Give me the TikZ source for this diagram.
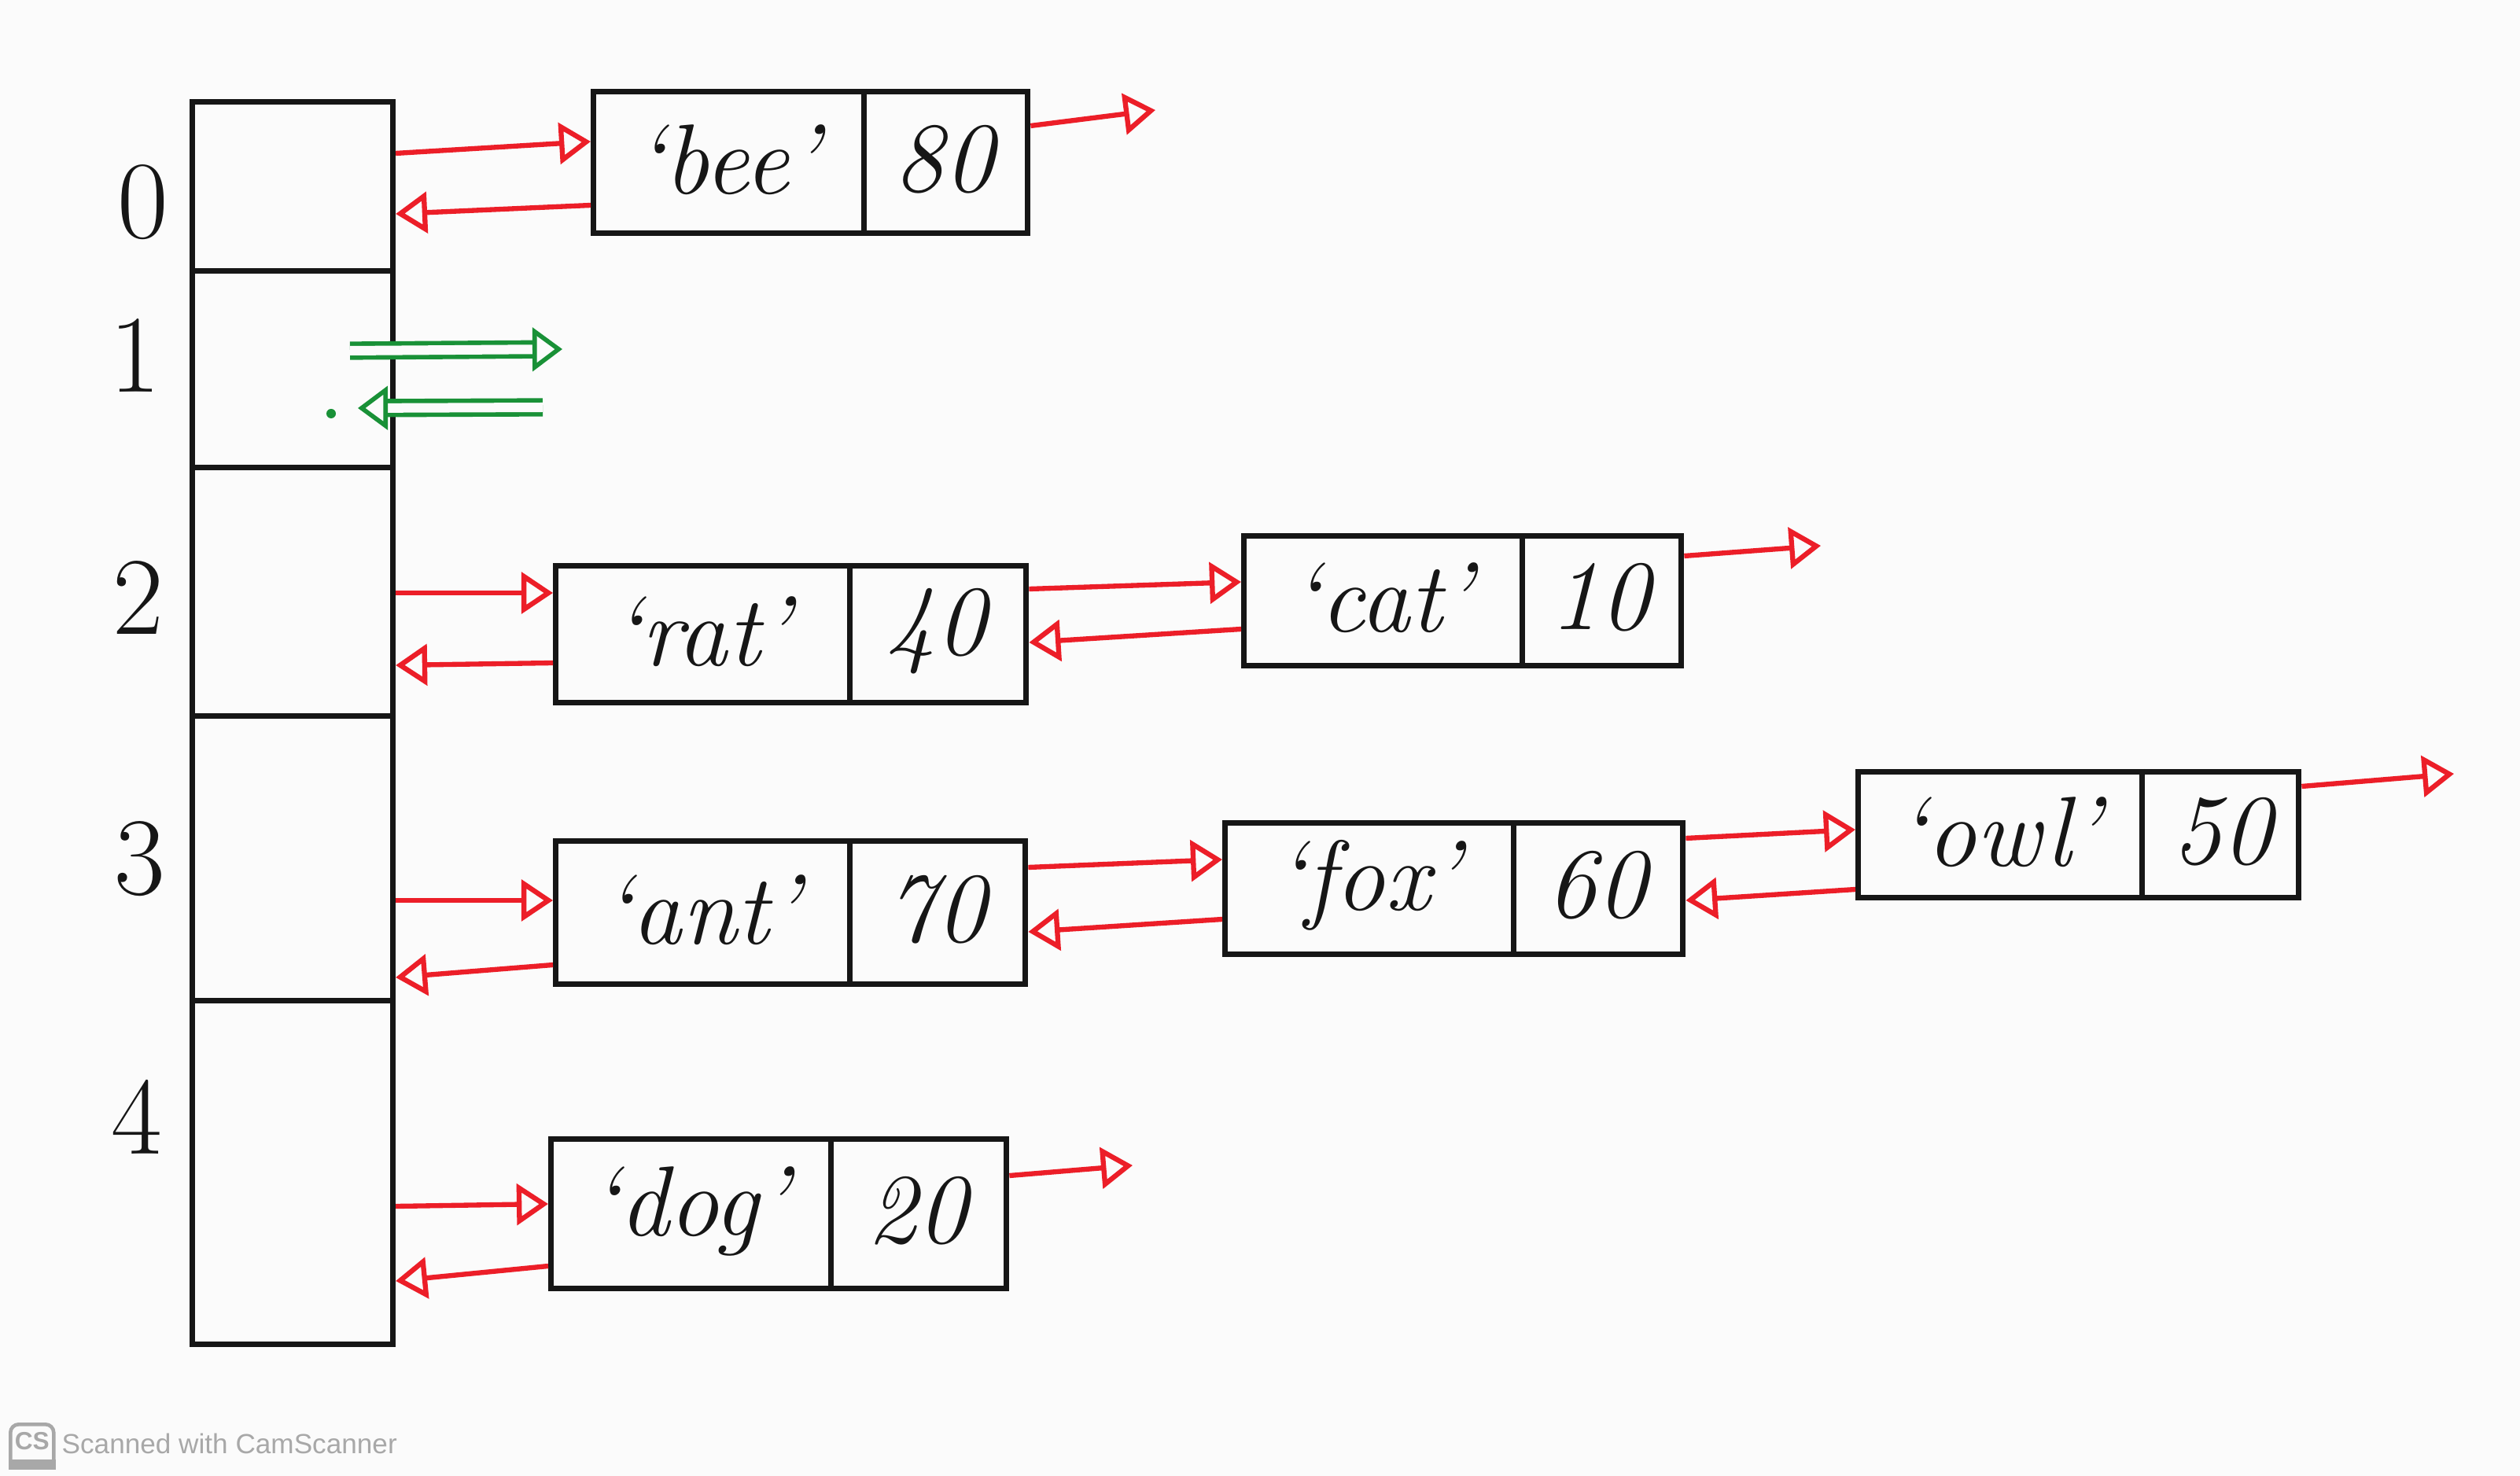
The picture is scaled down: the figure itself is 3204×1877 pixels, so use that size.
\documentclass[tikz,border=0pt]{standalone}
\usepackage{fontspec}
\newfontfamily\wmfont{Liberation Sans}
\usetikzlibrary{arrows.meta,calc}
\definecolor{pen}{RGB}{22,22,22}
\definecolor{redpen}{RGB}{236,30,40}
\definecolor{greenpen}{RGB}{25,145,55}
\definecolor{wm}{RGB}{168,168,168}
\definecolor{paper}{RGB}{251,251,251}
\begin{document}
\begin{tikzpicture}[x=0.01cm,y=-0.01cm,
  slot/.style={draw=pen, line width=2pt, minimum width=2.55cm, inner sep=0pt, anchor=north},
  entry/.style={draw=pen, line width=2pt, inner sep=0pt, anchor=north west},
  divider/.style={draw=pen, line width=2pt},
  txt/.style={font=\fontsize{36}{40}\selectfont\itshape, text=pen, inner sep=0pt},
  idx/.style={font=\fontsize{40}{44}\selectfont, text=pen, inner sep=0pt},
  ptr/.style={draw=redpen, line width=1.8pt, -{Triangle[open, length=0.40cm, width=0.52cm, line width=1.8pt]}},
  gptr/.style={draw=greenpen, line width=1.6pt, double=paper, double distance=0.12cm,
    -{Triangle[open, length=0.38cm, width=0.55cm]}}
]
\fill[paper] (0,0) rectangle (3204,1877);
\useasboundingbox (0,0) rectangle (3204,1877);

% hash table slots
\node[slot, minimum height=2.15cm] (s0) at (372,126) {};
\node[slot, minimum height=2.50cm] (s1) at (372,341) {};
\node[slot, minimum height=3.16cm] (s2) at (372,591) {};
\node[slot, minimum height=3.62cm] (s3) at (372,907) {};
\node[slot, minimum height=4.37cm] (s4) at (372,1269) {};

% indices
\node[idx] (i0) at (182,257) {0};
\node[idx] (i1) at (172,452) {1};
\node[idx] (i2) at (176,760) {2};
\node[idx] (i3) at (178,1092) {3};
\node[idx] (i4) at (174,1420) {4};

% entries
\node[entry, minimum width=5.52cm, minimum height=1.80cm] (bee) at (751,113) {};
\draw[divider] (bee.north -| 1098,0) -- (bee.south -| 1098,0);
\node[txt] (beek) at (924,203) {`bee'};
\node[txt] (beev) at (1200,203) {80};

\node[entry, minimum width=5.98cm, minimum height=1.74cm] (rat) at (703,716) {};
\draw[divider] (rat.north -| 1080,0) -- (rat.south -| 1080,0);
\node[txt] (ratk) at (891,803) {`rat'};
\node[txt] (ratv) at (1190,803) {40};

\node[entry, minimum width=5.56cm, minimum height=1.65cm] (cat) at (1578,678) {};
\draw[divider] (cat.north -| 1935,0) -- (cat.south -| 1935,0);
\node[txt] (catk) at (1756,760) {`cat'};
\node[txt] (catv) at (2034,760) {10};

\node[entry, minimum width=5.97cm, minimum height=1.82cm] (ant) at (703,1066) {};
\draw[divider] (ant.north -| 1080,0) -- (ant.south -| 1080,0);
\node[txt] (antk) at (891,1157) {`ant'};
\node[txt] (antv) at (1190,1157) {70};

\node[entry, minimum width=5.82cm, minimum height=1.67cm] (fox) at (1554,1043) {};
\draw[divider] (fox.north -| 1924,0) -- (fox.south -| 1924,0);
\node[txt] (foxk) at (1739,1126) {`fox'};
\node[txt] (foxv) at (2030,1126) {60};

\node[entry, minimum width=5.60cm, minimum height=1.60cm] (owl) at (2359,978) {};
\draw[divider] (owl.north -| 2723,0) -- (owl.south -| 2723,0);
\node[txt] (owlk) at (2541,1058) {`owl'};
\node[txt] (owlv) at (2825,1058) {50};

\node[entry, minimum width=5.79cm, minimum height=1.90cm] (dog) at (697,1445) {};
\draw[divider] (dog.north -| 1056,0) -- (dog.south -| 1056,0);
\node[txt] (dogk) at (876,1540) {`dog'};
\node[txt] (dogv) at (1166,1540) {20};

% free ends of next pointers
\coordinate (n0) at (1469,140);
\coordinate (n2) at (2315,694);
\coordinate (n3) at (3120,984);
\coordinate (n4) at (1440,1482);

% bucket 0
\draw[ptr] (s0.east |- 0,195) -- (bee.west |- 0,180);
\draw[ptr] (bee.west |- 0,261) -- (s0.east |- 0,272);
\draw[ptr] (bee.east |- 0,160) -- (n0);

% bucket 1 (empty, green)
\coordinate (g1a) at (445,446);
\coordinate (g1b) at (715,444);
\coordinate (g2a) at (690,518);
\coordinate (g2b) at (455,519);
\draw[gptr] (g1a) -- (g1b);
\draw[gptr] (g2a) -- (g2b);
\fill[greenpen] (421,526) circle (0.06cm);

% bucket 2
\draw[ptr] (s2.east |- 0,754) -- (rat.west |- 0,754);
\draw[ptr] (rat.west |- 0,843) -- (s2.east |- 0,846);
\draw[ptr] (rat.east |- 0,749) -- (cat.west |- 0,740);
\draw[ptr] (cat.west |- 0,800) -- (rat.east |- 0,817);
\draw[ptr] (cat.east |- 0,707) -- (n2);

% bucket 3
\draw[ptr] (s3.east |- 0,1145) -- (ant.west |- 0,1145);
\draw[ptr] (ant.west |- 0,1227) -- (s3.east |- 0,1243);
\draw[ptr] (ant.east |- 0,1103) -- (fox.west |- 0,1093);
\draw[ptr] (fox.west |- 0,1169) -- (ant.east |- 0,1185);
\draw[ptr] (fox.east |- 0,1066) -- (owl.west |- 0,1055);
\draw[ptr] (owl.west |- 0,1131) -- (fox.east |- 0,1145);
\draw[ptr] (owl.east |- 0,1000) -- (n3);

% bucket 4
\draw[ptr] (s4.east |- 0,1534) -- (dog.west |- 0,1531);
\draw[ptr] (dog.west |- 0,1610) -- (s4.east |- 0,1629);
\draw[ptr] (dog.east |- 0,1495) -- (n4);

% watermark
\node[draw=wm, line width=1.3pt, rounded corners=3pt, minimum width=0.55cm, minimum height=0.55cm, inner sep=0pt, anchor=north west] (cs) at (11,1809) {};
\fill[wm] ([yshift=0.13cm]cs.south west) rectangle (cs.south east);
\node[font=\wmfont\bfseries\fontsize{9}{9}\selectfont, text=wm, inner sep=0pt] (cst) at ([yshift=0.06cm]cs.center) {CS};
\node[font=\wmfont\fontsize{10}{12}\selectfont, text=wm, anchor=west, inner sep=0pt] (wmt) at (78,1836) {Scanned with CamScanner};
\end{tikzpicture}
\end{document}
